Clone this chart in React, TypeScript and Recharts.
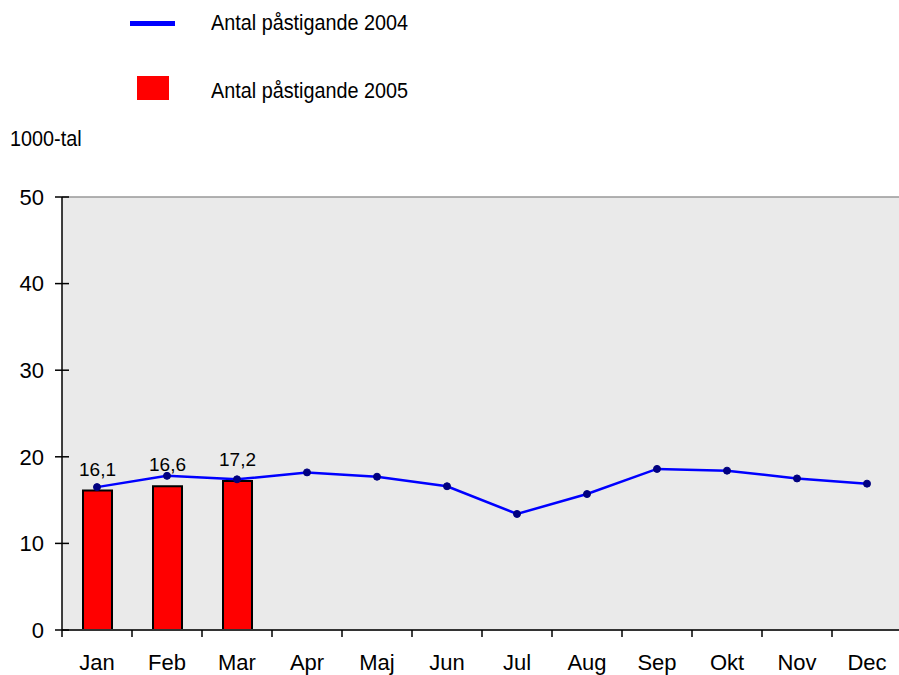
import * as React from "react";
import {
  ComposedChart,
  Bar,
  Line,
  XAxis,
  YAxis,
  CartesianGrid,
  ReferenceLine,
  LabelList,
} from "recharts";

// data (1000-tal)
const months = ["Jan", "Feb", "Mar", "Apr", "Maj", "Jun", "Jul", "Aug", "Sep", "Okt", "Nov", "Dec"];
const pastigande2004 = [16.5, 17.8, 17.4, 18.2, 17.7, 16.6, 13.4, 15.7, 18.6, 18.4, 17.5, 16.9];
const pastigande2005: (number | null)[] = [16.1, 16.6, 17.2, null, null, null, null, null, null, null, null, null];
const yTicks = [0, 10, 20, 30, 40, 50];

const SERIES_2004 = "Antal påstigande 2004";
const SERIES_2005 = "Antal påstigande 2005";

const data = months.map((m, i) => ({
  month: m,
  y2004: pastigande2004[i],
  y2005: pastigande2005[i],
}));

const FONT = "'Liberation Sans', Arial, sans-serif";
const BAND = 70; // px per month

const fmt = (v: number) => String(v).replace(".", ",");

// narrow-looking text (no Arial Narrow installed, so squash Liberation Sans)
const narrow: React.CSSProperties = {
  position: "absolute",
  fontFamily: FONT,
  fontSize: 22,
  lineHeight: "26px",
  whiteSpace: "nowrap",
  transform: "scaleX(0.9)",
  transformOrigin: "left center",
  color: "#000",
};

function YTick(props: any) {
  const { x, y, payload } = props;
  return (
    <g>
      <line x1={x - 7} x2={x + 7} y1={y} y2={y} stroke="#000" strokeWidth={1.5} />
      <text x={x - 18} y={y} dy="0.35em" textAnchor="end" fontSize={22} fontFamily={FONT} fill="#000">
        {payload.value}
      </text>
    </g>
  );
}

function XTick(props: any) {
  const { x, y, payload } = props;
  return (
    <g>
      <line x1={x - BAND / 2} x2={x - BAND / 2} y1={y} y2={y + 7} stroke="#000" strokeWidth={1.5} />
      <text x={x} y={y + 40} textAnchor="middle" fontSize={22} fontFamily={FONT} fill="#000">
        {payload.value}
      </text>
    </g>
  );
}

export default function App() {
  return (
    <div style={{ position: "fixed", left: 0, top: 0, width: 899, height: 675, overflow: "hidden", background: "#fff" }}>
      {/* legend */}
      <div style={{ position: "absolute", left: 130, top: 21, width: 45, height: 5, background: "#0000FF" }} />
      <div style={{ ...narrow, left: 211, top: 10 }}>{SERIES_2004}</div>
      <div style={{ position: "absolute", left: 137, top: 76, width: 32, height: 24, background: "#FF0000" }} />
      <div style={{ ...narrow, left: 211, top: 78 }}>{SERIES_2005}</div>
      <div style={{ ...narrow, left: 10, top: 126 }}>1000-tal</div>

      <ComposedChart width={902} height={675} data={data} margin={{ top: 197, right: 0, bottom: 0, left: 0 }}>
        <CartesianGrid fill="#EAEAEA" stroke="none" horizontal={false} vertical={false} />
        <ReferenceLine y={50} stroke="#999" strokeWidth={1.5} />
        <XAxis
          dataKey="month"
          height={45}
          tickSize={0}
          tickMargin={0}
          tick={<XTick />}
          axisLine={{ stroke: "#333", strokeWidth: 2 }}
          tickLine={false}
          interval={0}
        />
        <YAxis
          width={62}
          domain={[0, 50]}
          ticks={yTicks}
          tickSize={0}
          tickMargin={0}
          tick={<YTick />}
          tickLine={false}
          axisLine={{ stroke: "#000", strokeWidth: 1.5 }}
          allowDataOverflow
        />
        <Bar dataKey="y2005" name={SERIES_2005} fill="#FF0000" stroke="#000" strokeWidth={2} barSize={29} isAnimationActive={false}>
          <LabelList
            dataKey="y2005"
            position="top"
            offset={15}
            formatter={(v: any) => (v == null ? "" : fmt(v))}
            style={{ fontSize: 19, fontFamily: FONT, fill: "#000" }}
          />
        </Bar>
        <Line
          dataKey="y2004"
          name={SERIES_2004}
          stroke="#0000FF"
          strokeWidth={2.5}
          dot={{ r: 3.5, fill: "#000080", stroke: "#000080", strokeWidth: 1 }}
          isAnimationActive={false}
        />
      </ComposedChart>
    </div>
  );
}
